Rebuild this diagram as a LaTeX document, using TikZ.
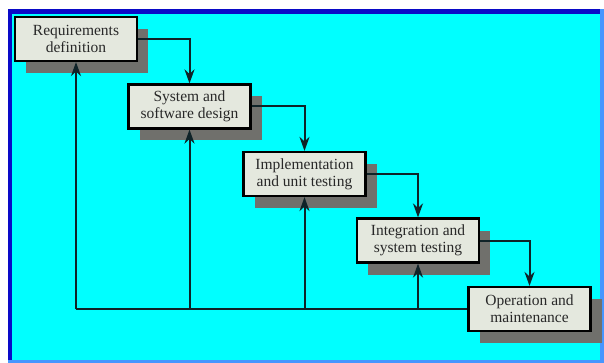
\documentclass[tikz,border=0pt]{standalone}
\usepackage{fontspec}
\setmainfont{Liberation Serif}
\usetikzlibrary{arrows.meta,shadows}
\definecolor{bgcyan}{RGB}{0,255,255}
\definecolor{framedark}{RGB}{10,10,200}
\definecolor{framelight}{RGB}{70,150,255}
\definecolor{boxfill}{RGB}{228,232,222}
\definecolor{shadowgray}{RGB}{112,112,108}
\definecolor{linecol}{RGB}{15,35,40}
\definecolor{textcol}{RGB}{40,40,40}
\tikzset{
  phase/.style={draw=black, line width=2.2pt, fill=boxfill,
    minimum width=122pt, minimum height=44pt, inner sep=0pt,
    align=center, text=textcol,
    font=\fontsize{15.5}{17}\selectfont,
    drop shadow={shadow xshift=11pt, shadow yshift=-12pt, fill=shadowgray, opacity=1}},
  flow/.style={draw=linecol, line width=2pt,
    -{Stealth[length=14pt,width=10pt]}},
  back/.style={draw=linecol, line width=2pt}
}
\begin{document}
\begin{tikzpicture}[x=1pt,y=-1pt]
  \useasboundingbox (0,0) rectangle (604,363);
  \fill[white] (0,0) rectangle (604,363);
  % frame: dark blue top and left edges, lighter right and bottom
  \fill[framelight] (8,9) rectangle (604,363);
  \fill[framedark] (8,9) rectangle (600,14);
  \fill[framedark] (8,9) rectangle (12,360);
  \fill[bgcyan] (12,14) rectangle (600,360);

  % phases
  \node[phase] (B1) at (76,39) {Requirements\\definition};
  \node[phase] (B2) at (189.5,106.5) {System and\\software design};
  \node[phase] (B3) at (304.5,174) {Implementation\\and unit testing};
  \node[phase] (B4) at (418,240.5) {Integration and\\system testing};
  \node[phase] (B5) at (529.5,309) {Operation and\\maintenance};

  % forward flow
  \draw[flow] (B1.east) -| (B2.north);
  \draw[flow] (B2.east) -| (B3.north);
  \draw[flow] (B3.east) -| (B4.north);
  \draw[flow] (B4.east) -| (B5.north);

  % feedback
  \coordinate (fb1) at (B1.south |- B5.west);
  \coordinate (fb2) at (B2.south |- B5.west);
  \coordinate (fb3) at (B3.south |- B5.west);
  \coordinate (fb4) at (B4.south |- B5.west);
  \draw[back] (B5.west) -- (fb1);
  \draw[flow] (fb1) -- (B1.south);
  \draw[flow] (fb2) -- (B2.south);
  \draw[flow] (fb3) -- (B3.south);
  \draw[flow] (fb4) -- (B4.south);
\end{tikzpicture}
\end{document}
